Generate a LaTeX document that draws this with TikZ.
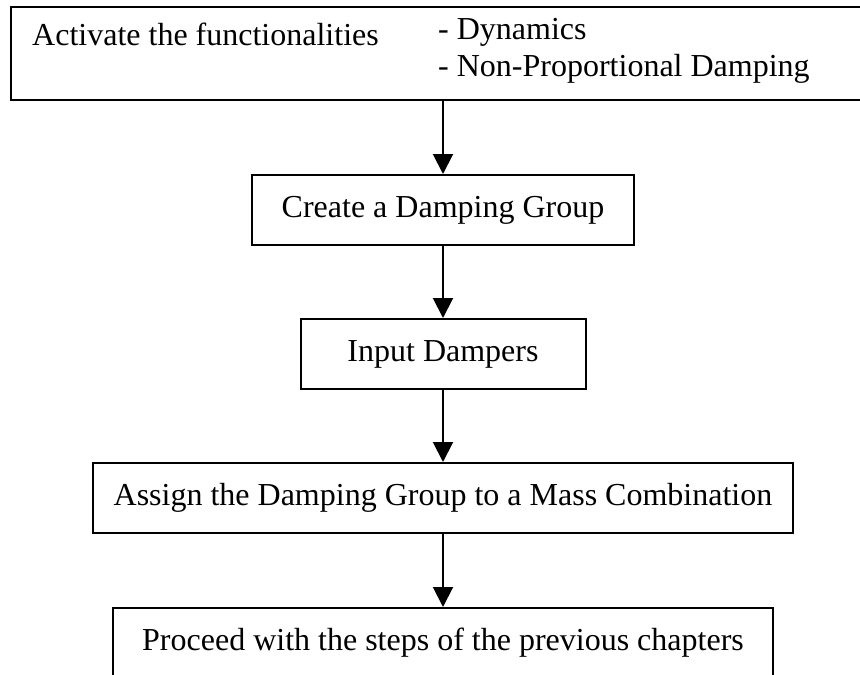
\documentclass[tikz,border=0pt]{standalone}
\usepackage{fontspec}
\setmainfont{Liberation Serif}
\usetikzlibrary{arrows.meta}
\tikzset{
  txt/.style={inner sep=0pt, font=\fontsize{32}{37}\selectfont},
  stepbox/.style={draw, line width=2pt, minimum height=70pt, inner sep=0pt, font=\fontsize{32}{37}\selectfont},
  flow/.style={line width=2pt, -{Triangle[length=20pt,width=20pt]}}
}
\begin{document}
\begin{tikzpicture}[x=1pt,y=-1pt]
\useasboundingbox (0,0) rectangle (860,675);
\node[stepbox, minimum width=869pt, minimum height=93pt] (act) at (445.5,53.5) {};
\node[txt, anchor=base west] (actl) at (32,45) {Activate the functionalities};
\node[txt, anchor=base west] (dyn) at (438,39) {- Dynamics};
\node[txt, anchor=base west] (npd) at (438,76) {- Non-Proportional Damping};
\node[stepbox, minimum width=382pt] (grp) at (443,210) {Create a Damping Group};
\node[stepbox, minimum width=285pt] (dmp) at (443,354) {Input Dampers};
\node[stepbox, minimum width=700pt] (asg) at (443,498) {Assign the Damping Group to a Mass Combination};
\node[stepbox, minimum width=660pt] (prc) at (443,643) {Proceed with the steps of the previous chapters};
\draw[flow] (act.south -| grp.north) -- (grp.north);
\draw[flow] (grp.south) -- (dmp.north);
\draw[flow] (dmp.south) -- (asg.north);
\draw[flow] (asg.south) -- (prc.north);
\end{tikzpicture}
\end{document}
